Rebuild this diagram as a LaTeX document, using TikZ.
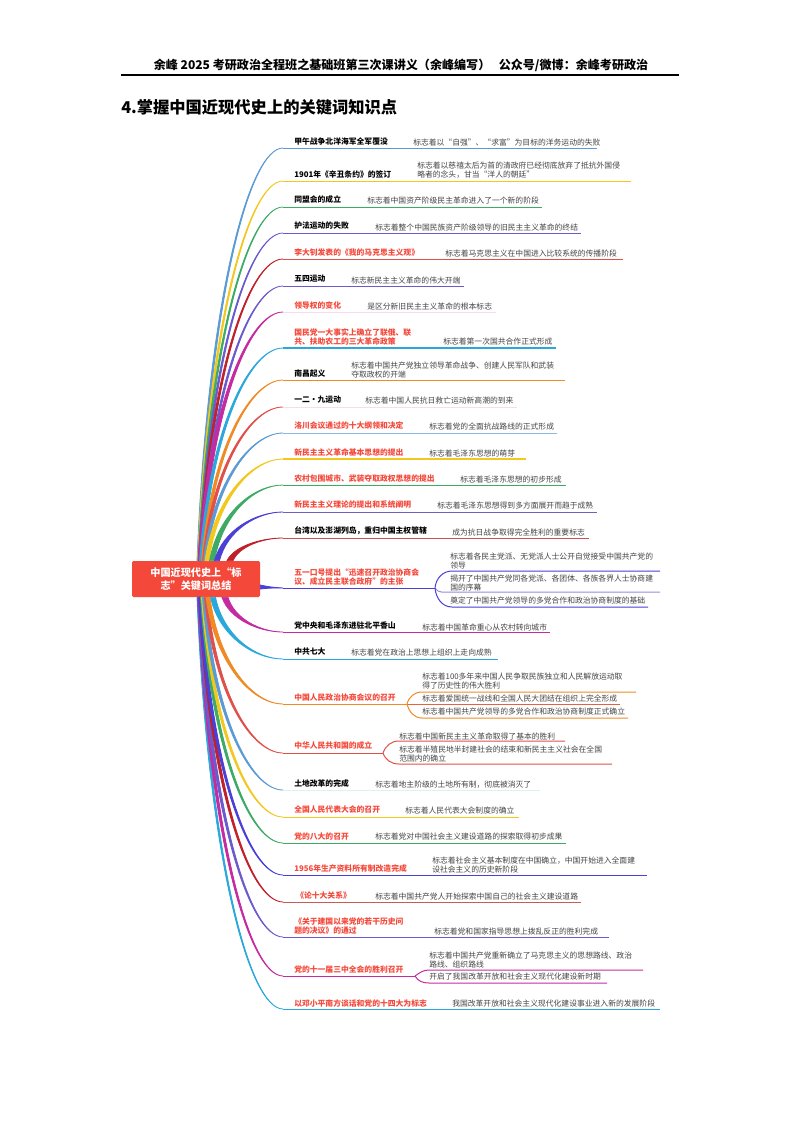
\documentclass[tikz,border=0pt]{standalone}
\usepackage{fontspec}
\setmainfont{Noto Sans CJK SC}
\usetikzlibrary{calc}
\definecolor{cblue}{HTML}{5B9BD5}
\definecolor{cyellow}{HTML}{F2C81E}
\definecolor{cgreen}{HTML}{3DAA66}
\definecolor{cviolet}{HTML}{6A5ACD}
\definecolor{cdeep}{HTML}{C0202A}
\definecolor{cmagenta}{HTML}{C42BA0}
\definecolor{ccyan}{HTML}{2AA8DC}
\definecolor{corange}{HTML}{F08A24}
\definecolor{ccoral}{HTML}{E0504A}
\definecolor{cindigo}{HTML}{4A3FD6}
\definecolor{cpink}{HTML}{F6DCEE}
\definecolor{cpale}{HTML}{DDF3F2}
\definecolor{crosy}{HTML}{F9DDE2}
\definecolor{cred}{HTML}{F4483A}
\definecolor{ctext}{HTML}{444444}
\tikzset{
    kw/.style={anchor=west, inner sep=0pt, align=left, font=\fontsize{5.85}{7.2}\selectfont\bfseries},
    kwred/.style={kw, text=cred},
    desc/.style={anchor=west, inner sep=0pt, align=left, text=ctext, font=\fontsize{5.85}{7.2}\selectfont},
    rootbox/.style={fill=cred, text=white, rounded corners=1pt, minimum width=96pt, minimum height=27pt, inner sep=0pt, align=center, font=\fontsize{7.6}{9.8}\selectfont\bfseries},
    twigline/.style={draw=#1, line width=.75pt}
}
% one tapered limb from the root box to a joint
\newcommand{\twig}[5]{
    \filldraw[#2, line width=.6pt] let \p0=($(root.#1)+(#3-#4,0)$), \p2=($(root.#1)+(#3+#4,0)$), \p1=(#5) in
        (\p0) .. controls ({\x0+(\x1-\x0)*.12},{\y1+.37*(\y0-\y1)}) and ({\x0+(\x1-\x0)*.6},\y1) .. (\p1)
        .. controls ({\x2+(\x1-\x2)*.6},\y1) and ({\x2+(\x1-\x2)*.12},{\y1+.37*(\y2-\y1)}) .. (\p2) -- cycle;
}
\begin{document}
\begin{tikzpicture}[x=.75pt, y=-.75pt]
    \useasboundingbox (0,0) rectangle (800,1132);
    \node[anchor=center, inner sep=0pt, font=\fontsize{9.05}{10}\selectfont\bfseries] (header) at (401,65) {余峰 2025 考研政治全程班之基础班第三次课讲义（余峰编写）\hspace{.7em}公众号/微博：余峰考研政治};
    \coordinate (ruleL) at (121,75); \coordinate (ruleR) at (679,75);
    \draw[line width=.9pt] (ruleL) -- (ruleR);
    \node[anchor=west, inner sep=0pt, font=\fontsize{12.2}{14}\selectfont\bfseries] (title) at (121,107) {4.掌握中国近现代史上的关键词知识点};
    \node[rootbox] (root) at (196,579) {中国近现代史上“标\\志”关键词总结};

    \coordinate (j1) at (283,148); \coordinate (e1) at (597,148);
    \node[kw] (k1) at (294,142) {甲午战争北洋海军全军覆没};
    \node[desc] (d1) at (413,143) {标志着以“自强”、“求富”为目标的洋务运动的失败};
    \twig{north}{cblue}{2}{1}{j1}
    \draw[twigline=cblue] (j1) -- (e1);

    \coordinate (j2) at (283,181); \coordinate (e2) at (631,181);
    \node[kw] (k2) at (294,174) {1901年《辛丑条约》的签订};
    \node[desc] (d2) at (417,170) {标志着以慈禧太后为首的清政府已经彻底放弃了抵抗外国侵\\略者的念头，甘当“洋人的朝廷”};
    \twig{north}{cyellow}{2.5}{1}{j2}
    \draw[twigline=cyellow] (j2) -- (e2);

    \coordinate (j3) at (283,207); \coordinate (e3) at (542,207);
    \node[kw] (k3) at (294,200) {同盟会的成立};
    \node[desc] (d3) at (367,201) {标志着中国资产阶级民主革命进入了一个新的阶段};
    \twig{north}{cgreen}{3}{1}{j3}
    \draw[twigline=cgreen] (j3) -- (e3);

    \coordinate (j4) at (283,233); \coordinate (e4) at (581,233);
    \node[kw] (k4) at (294,226) {护法运动的失败};
    \node[desc] (d4) at (375,228) {标志着整个中国民族资产阶级领导的旧民主主义革命的终结};
    \twig{north}{cviolet}{3.5}{1}{j4}
    \draw[twigline=cviolet] (j4) -- (e4);

    \coordinate (j5) at (283,259); \coordinate (e5) at (623,259);
    \node[kwred] (k5) at (294,253) {李大钊发表的《我的马克思主义观》};
    \node[desc] (d5) at (445,254) {标志着马克思主义在中国进入比较系统的传播阶段};
    \twig{north}{cdeep}{4}{1.2}{j5}
    \draw[twigline=ccoral] (j5) -- (e5);

    \coordinate (j6) at (283,286); \coordinate (e6) at (464,286);
    \node[kw] (k6) at (294,279) {五四运动};
    \node[desc] (d6) at (351,281) {标志新民主主义革命的伟大开端};
    \twig{north}{cviolet}{4.5}{1.2}{j6}
    \draw[twigline=cviolet] (j6) -- (e6);

    \coordinate (j7) at (283,312); \coordinate (e7) at (496,312);
    \node[kwred] (k7) at (294,306) {领导权的变化};
    \node[desc] (d7) at (367,307) {是区分新旧民主主义革命的根本标志};
    \twig{north}{cmagenta}{4}{2}{j7}
    \draw[twigline=cpink] (j7) -- (e7);

    \coordinate (j8) at (283,348); \coordinate (e8) at (556,348);
    \node[kwred] (k8) at (294,337) {国民党一大事实上确立了联俄、联\\共、扶助农工的三大革命政策};
    \node[desc] (d8) at (443,342) {标志着第一次国共合作正式形成};
    \twig{north}{ccyan}{5}{1.5}{j8}
    \draw[twigline=ccyan, line width=1pt] (j8) -- (e8);

    \coordinate (j9) at (283,380); \coordinate (e9) at (565,380);
    \node[kw] (k9) at (294,374) {南昌起义};
    \node[desc] (d9) at (351,370) {标志着中国共产党独立领导革命战争、创建人民军队和武装\\夺取政权的开端};
    \twig{north}{corange}{7}{1.5}{j9}
    \draw[twigline=corange] (j9) -- (e9);

    \coordinate (j10) at (283,407); \coordinate (e10) at (517,407);
    \node[kw] (k10) at (294,400) {一二·九运动};
    \node[desc] (d10) at (365,401) {标志着中国人民抗日救亡运动新高潮的到来};
    \twig{north}{ccoral}{8}{1.5}{j10}
    \draw[twigline=crosy] (j10) -- (e10);

    \coordinate (j11) at (283,433); \coordinate (e11) at (557,433);
    \node[kwred] (k11) at (294,426) {洛川会议通过的十大纲领和决定};
    \node[desc] (d11) at (429,427) {标志着党的全面抗战路线的正式形成};
    \twig{north}{cblue}{9}{1.5}{j11}
    \draw[twigline=cblue!70] (j11) -- (e11);

    \coordinate (j12) at (283,459); \coordinate (e12) at (526,459);
    \node[kwred] (k12) at (294,452) {新民主主义革命基本思想的提出};
    \node[desc] (d12) at (429,454) {标志着毛泽东思想的萌芽};
    \twig{north}{cyellow}{11}{2}{j12}
    \draw[twigline=cyellow, line width=1pt] (j12) -- (e12);

    \coordinate (j13) at (283,485); \coordinate (e13) at (566,485);
    \node[kwred] (k13) at (294,479) {农村包围城市、武装夺取政权思想的提出};
    \node[desc] (d13) at (460,480) {标志着毛泽东思想的初步形成};
    \twig{north}{cgreen}{16}{2.5}{j13}
    \draw[twigline=cgreen] (j13) -- (e13);

    \coordinate (j14) at (283,512); \coordinate (e14) at (597,512);
    \node[kwred] (k14) at (294,505) {新民主主义理论的提出和系统阐明};
    \node[desc] (d14) at (437,506) {标志着毛泽东思想得到多方面展开而趋于成熟};
    \twig{north}{cindigo}{21}{2.5}{j14}
    \draw[twigline=cviolet!85!gray] (j14) -- (e14);

    \coordinate (j15) at (283,538); \coordinate (e15) at (589,538);
    \node[kw] (k15) at (294,531) {台湾以及澎湖列岛，重归中国主权管辖};
    \node[desc] (d15) at (452,533) {成为抗日战争取得完全胜利的重要标志};
    \twig{north}{cdeep}{34}{3}{j15}
    \draw[twigline=cdeep!80] (j15) -- (e15);

    % the branch with three children, leaves the side of the box
    \coordinate (j16) at (283,588); \coordinate (f16) at (435,588);
    \coordinate (a16) at (452,571); \coordinate (b16) at (660,571);
    \coordinate (c16) at (452,592); \coordinate (g16) at (660,592);
    \coordinate (h16) at (452,607); \coordinate (i16) at (648,607);
    \node[kwred] (k16) at (294,577) {五一口号提出“迅速召开政治协商会\\议、成立民主联合政府”的主张};
    \node[desc] (d16a) at (450,561) {标志着各民主党派、无党派人士公开自觉接受中国共产党的\\领导};
    \node[desc] (d16b) at (450,583) {揭开了中国共产党同各党派、各团体、各族各界人士协商建\\国的序幕};
    \node[desc] (d16c) at (450,601) {奠定了中国共产党领导的多党合作和政治协商制度的基础};
    \filldraw[cindigo, line width=.6pt] ($(root.east)+(0,6)$) .. controls (270,587) .. (j16) .. controls (270,588) .. ($(root.east)+(0,10)$) -- cycle;
    \draw[twigline=cindigo] (j16) -- (f16);
    \draw[twigline=cindigo] (f16) to[out=85,in=180] (a16) -- (b16);
    \draw[twigline=cviolet!70] (f16) to[out=-60,in=180] (c16) -- (g16);
    \draw[twigline=cindigo] (f16) to[out=-85,in=180] (h16) -- (i16);

    \coordinate (j28) at (283,1009); \coordinate (e28) at (660,1009);
    \node[kwred] (k28) at (294,1003) {以邓小平南方谈话和党的十四大为标志};
    \node[desc] (d28) at (452,1004) {我国改革开放和社会主义现代化建设事业进入新的发展阶段};
    \twig{south}{ccyan}{2}{1}{j28}
    \draw[twigline=ccyan] (j28) -- (e28);

    \coordinate (j27) at (283,976); \coordinate (f27) at (415,976);
    \coordinate (a27) at (429,970); \coordinate (b27) at (643,970);
    \coordinate (c27) at (429,983); \coordinate (g27) at (607,983);
    \node[kwred] (k27) at (294,970) {党的十一届三中全会的胜利召开};
    \node[desc] (d27a) at (429,960) {标志着中国共产党重新确立了马克思主义的思想路线、政治\\路线、组织路线};
    \node[desc] (d27b) at (429,977) {开启了我国改革开放和社会主义现代化建设新时期};
    \twig{south}{cmagenta}{3}{1.5}{j27}
    \draw[twigline=cmagenta] (j27) -- (f27);
    \draw[twigline=cmagenta] (f27) to[out=35,in=180] (a27) -- (b27);
    \draw[twigline=cmagenta] (f27) to[out=-60,in=180] (c27) -- (g27);

    \coordinate (j26) at (283,937); \coordinate (e26) at (609,937);
    \node[kwred] (k26) at (294,926) {《关于建国以来党的若干历史问\\题的决议》的通过};
    \node[desc] (d26) at (434,932) {标志着党和国家指导思想上拨乱反正的胜利完成};
    \twig{south}{cviolet}{3}{1.5}{j26}
    \draw[twigline=cviolet] (j26) -- (e26);

    \coordinate (j25) at (283,902); \coordinate (e25) at (581,902);
    \node[kwred] (k25) at (296,895) {《论十大关系》};
    \node[desc] (d25) at (375,897) {标志着中国共产党人开始探索中国自己的社会主义建设道路};
    \twig{south}{cdeep}{4}{1.5}{j25}
    \draw[twigline=ccoral!80!gray] (j25) -- (e25);

    \coordinate (j24) at (283,875); \coordinate (e24) at (647,875);
    \node[kwred] (k24) at (294,869) {1956年生产资料所有制改造完成};
    \node[desc] (d24) at (432,865) {标志着社会主义基本制度在中国确立，中国开始进入全面建\\设社会主义的历史新阶段};
    \twig{south}{cindigo}{4}{1.5}{j24}
    \draw[twigline=cindigo] (j24) -- (e24);

    \coordinate (j23) at (283,843); \coordinate (e23) at (566,843);
    \node[kwred] (k23) at (294,837) {党的八大的召开};
    \node[desc] (d23) at (375,837) {标志着党对中国社会主义建设道路的探索取得初步成果};
    \twig{south}{cgreen}{6}{1.5}{j23}
    \draw[twigline=cgreen] (j23) -- (e23);

    \coordinate (j22) at (283,817); \coordinate (e22) at (519,817);
    \node[kwred] (k22) at (294,810) {全国人民代表大会的召开};
    \node[desc] (d22) at (405,811) {标志着人民代表大会制度的确立};
    \twig{south}{cyellow}{7}{1.5}{j22}
    \draw[twigline=cyellow] (j22) -- (e22);

    \coordinate (j21) at (283,790); \coordinate (e21) at (540,790);
    \node[kw] (k21) at (294,784) {土地改革的完成};
    \node[desc] (d21) at (375,785) {标志着地主阶级的土地所有制，彻底被消灭了};
    \twig{south}{cblue}{8}{1.5}{j21}
    \draw[twigline=cpale] (j21) -- (e21);

    \coordinate (j20) at (283,753); \coordinate (f20) at (383,753);
    \coordinate (a20) at (399,741); \coordinate (b20) at (565,741);
    \coordinate (c20) at (399,764); \coordinate (g20) at (612,764);
    \node[kwred] (k20) at (294,746) {中华人民共和国的成立};
    \node[desc] (d20a) at (399,736) {标志着中国新民主主义革命取得了基本的胜利};
    \node[desc] (d20b) at (399,754) {标志着半殖民地半封建社会的结束和新民主主义社会在全国\\范围内的确立};
    \twig{south}{ccoral}{10}{1.5}{j20}
    \draw[twigline=ccoral] (j20) -- (f20);
    \draw[twigline=ccoral] (f20) to[out=70,in=180] (a20) -- (b20);
    \draw[twigline=ccoral] (f20) to[out=-70,in=180] (c20) -- (g20);

    \coordinate (j19) at (283,704); \coordinate (f19) at (407,704);
    \coordinate (a19) at (422,692); \coordinate (b19) at (636,692);
    \coordinate (c19) at (422,704); \coordinate (g19) at (620,704);
    \coordinate (h19) at (422,718); \coordinate (i19) at (628,718);
    \node[kwred] (k19) at (294,698) {中国人民政治协商会议的召开};
    \node[desc] (d19a) at (422,681) {标志着100多年来中国人民争取民族独立和人民解放运动取\\得了历史性的伟大胜利};
    \node[desc] (d19b) at (422,699) {标志着爱国统一战线和全国人民大团结在组织上完全形成};
    \node[desc] (d19c) at (422,712) {标志着中国共产党领导的多党合作和政治协商制度正式确立};
    \twig{south}{corange}{12}{2}{j19}
    \draw[twigline=corange] (j19) -- (f19);
    \draw[twigline=corange] (f19) to[out=75,in=180] (a19) -- (b19);
    \draw[twigline=ccoral!70!corange] (f19) -- (c19) -- (g19);
    \draw[twigline=corange] (f19) to[out=-75,in=180] (h19) -- (i19);

    \coordinate (j18) at (283,659); \coordinate (e18) at (498,659);
    \node[kw] (k18) at (294,652) {中共七大};
    \node[desc] (d18) at (351,653) {标志着党在政治上思想上组织上走向成熟};
    \twig{south}{ccyan}{17}{2.5}{j18}
    \draw[twigline=ccyan] (j18) -- (e18);

    \coordinate (j17) at (283,632); \coordinate (e17) at (550,632);
    \node[kw] (k17) at (294,626) {党中央和毛泽东进驻北平香山};
    \node[desc] (d17) at (422,627) {标志着中国革命重心从农村转向城市};
    \twig{south}{cmagenta}{29}{3}{j17}
    \draw[twigline=cmagenta] (j17) -- (e17);
\end{tikzpicture}
\end{document}
